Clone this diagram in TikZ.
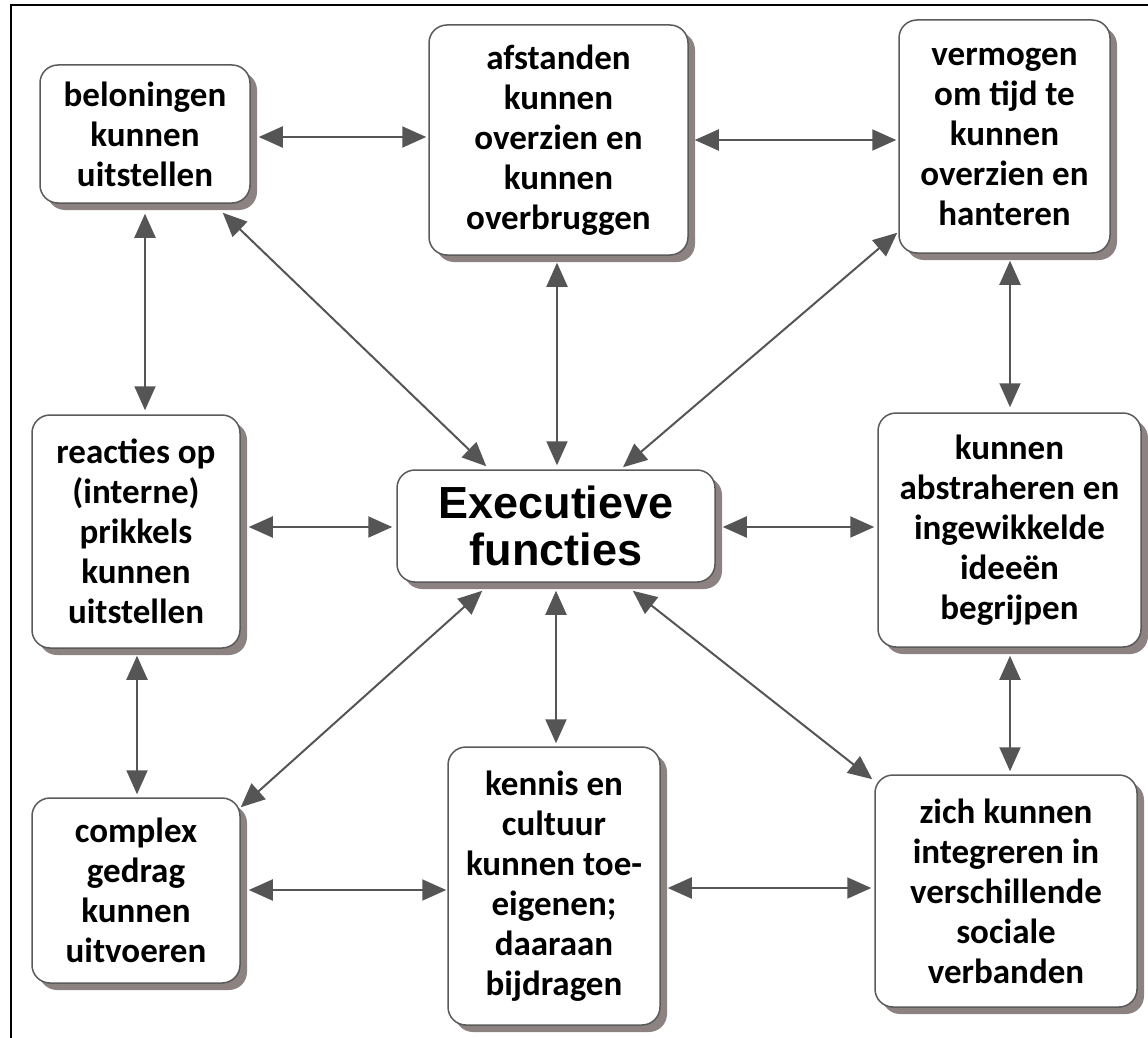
\documentclass[tikz,border=0pt]{standalone}
\usepackage{fontspec}
\setmainfont{Carlito}
\newfontfamily\arialb{Liberation Sans}
\usetikzlibrary{arrows.meta,shadows,calc}
\definecolor{linec}{HTML}{555555}
\definecolor{shadc}{HTML}{8C8282}
\definecolor{boxline}{HTML}{5A5A5A}
\tikzset{
  box/.style={draw=boxline, line width=1.5pt, rounded corners=18pt, fill=white,
    align=center, inner sep=0pt,
    font=\bfseries\fontsize{35}{40}\selectfont,
    drop shadow={shadow xshift=7pt, shadow yshift=-7pt, fill=shadc, opacity=1}},
  con/.style={draw=linec, line width=2pt,
    {Triangle[length=24pt,width=21pt]}-{Triangle[length=24pt,width=21pt]}}
}
\begin{document}
\begin{tikzpicture}[x=1pt,y=-1pt]
\useasboundingbox (0,0) rectangle (1148,1038);
\draw[line width=2pt] (11,1040) -- (11,5) -- (1150,5);

\node[box, minimum width=210pt, minimum height=138pt] (bel) at (145,134) {beloningen\\kunnen\\uitstellen};
\node[box, minimum width=259pt, minimum height=230pt] (afs) at (558.5,140) {afstanden\\kunnen\\overzien en\\kunnen\\overbruggen};
\node[box, minimum width=211pt, minimum height=233pt] (ver) at (1004.5,136.5) {vermogen\\om tijd te\\kunnen\\overzien en\\hanteren};
\node[box, minimum width=208pt, minimum height=233pt] (rea) at (136,531.5) {reacties op\\(interne)\\prikkels\\kunnen\\uitstellen};
\node[box, minimum width=318pt, minimum height=112pt, font=\arialb\bfseries\fontsize{45}{47}\selectfont] (exe) at (556,526) {Executieve\\functies};
\node[box, minimum width=263pt, minimum height=234pt] (abs) at (1009.5,530) {kunnen\\abstraheren en\\ingewikkelde\\ideeën\\begrijpen};
\node[box, minimum width=208pt, minimum height=185pt] (com) at (136,890.5) {complex\\gedrag\\kunnen\\uitvoeren};
\node[box, minimum width=212pt, minimum height=278pt] (ken) at (554,886) {kennis en\\cultuur\\kunnen toe-\\eigenen;\\daaraan\\bijdragen};
\node[box, minimum width=262pt, minimum height=232pt] (zic) at (1006,891) {zich kunnen\\integreren in\\verschillende\\sociale\\verbanden};

\draw[con] ($(bel.east)+(8,3)$) -- ($(afs.west)+(-2,-3)$);
\draw[con] ($(afs.east)+(6,0)$) -- ($(ver.west)+(-2,3.5)$);
\draw[con] ($(bel.south)+(0,10)$) -- ($(rea.north)+(9,-4)$);
\draw[con] ($(bel.south east)+(-28,9)$) -- ($(exe.north west)+(90,-3)$);
\draw[con] ($(afs.south)+(-1.5,7)$) -- ($(exe.north)+(1,-4)$);
\draw[con] ($(ver.south west)+(-1,-21)$) -- ($(exe.north)+(67,-2)$);
\draw[con] ($(ver.south)+(5.5,7)$) -- ($(abs.north)+(0.5,-5)$);
\draw[con] ($(rea.east)+(8,-4.5)$) -- ($(exe.west)+(-4,1)$);
\draw[con] ($(exe.east)+(7,1)$) -- ($(abs.west)+(-3,-3)$);
\draw[con] ($(rea.south)+(1,7)$) -- ($(com.north)+(1,-3)$);
\draw[con] ($(exe.south west)+(86,8)$) -- ($(com.north east)+(0,10)$);
\draw[con] ($(exe.south)+(0,8)$) -- ($(ken.north)+(2,-3)$);
\draw[con] ($(exe.south east)+(-83,8)$) -- ($(zic.north west)+(-2,5)$);
\draw[con] ($(abs.south)+(0.5,8)$) -- ($(zic.north)+(4,-3)$);
\draw[con] ($(com.east)+(8,-0.5)$) -- ($(ken.west)+(-1,4)$);
\draw[con] ($(ken.east)+(7,2)$) -- ($(zic.west)+(-3,-3)$);
\end{tikzpicture}
\end{document}
